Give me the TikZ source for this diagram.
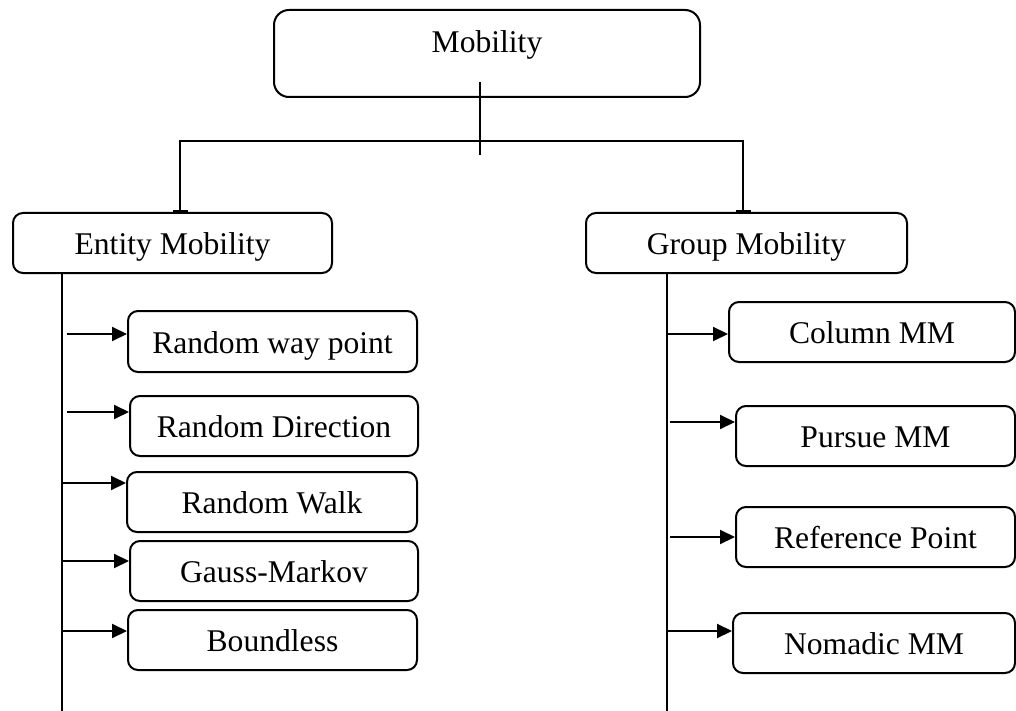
\documentclass[tikz,border=0pt]{standalone}
\usepackage{fontspec}
\setmainfont{Liberation Serif}
\usetikzlibrary{arrows.meta}
\tikzset{
  mbox/.style={draw,line width=2pt,rounded corners=10pt,inner sep=0pt,minimum height=60pt,text height=23pt,text depth=0pt},
  ln/.style={line width=2pt}
}
\begin{document}
\begin{tikzpicture}[x=1pt,y=-1pt,>={Triangle[length=15pt,width=14pt]},font=\fontsize{31.6pt}{36pt}\selectfont]
\useasboundingbox (0,0) rectangle (1016,711);
\node[mbox,rounded corners=15pt,minimum width=426pt,text height=43pt,text depth=44pt] (mob) at (487,53.5){Mobility};
\node[mbox,minimum width=319pt] (ent) at (172.5,243){Entity Mobility};
\node[mbox,minimum width=321pt] (grp) at (746.5,243){Group Mobility};
% entity models
\node[mbox,minimum width=289pt,minimum height=61pt] (rwp) at (272.5,341.5){Random way point};
\node[mbox,minimum width=288pt] (rdir) at (274,426){Random Direction};
\node[mbox,minimum width=290pt] (rwalk) at (272,502){Random Walk};
\node[mbox,minimum width=288pt] (gm) at (274,571){Gauss-Markov};
\node[mbox,minimum width=289pt] (bnd) at (272.5,640){Boundless};
% group models
\node[mbox,minimum width=286pt] (col) at (872,332){Column MM};
\node[mbox,minimum width=279pt] (pur) at (875.5,436){Pursue MM};
\node[mbox,minimum width=279pt] (ref) at (875.5,537){Reference Point};
\node[mbox,minimum width=282pt] (nom) at (874,643){Nomadic MM};
% tree lines
\coordinate (stub) at (480,155);
\coordinate (bus) at (480,141);
\draw[ln] (stub)--++(0,-73);
\draw[ln,-{Bar[width=15pt]}] (bus)-|([xshift=7.5pt]ent.north);
\draw[ln,-{Bar[width=15pt]}] (bus)-|([xshift=-3.5pt]grp.north);
\coordinate (entEnd) at (62,711);
\coordinate (grpEnd) at (667,711);
\draw[ln] (entEnd|-ent.south)--(entEnd);
\draw[ln] (grpEnd|-grp.south)--(grpEnd);
\foreach \n/\s/\y in {rwp/67/334,rdir/67/412,rwalk/63/483,gm/63/561,bnd/63/631,col/668/334,pur/670/422,ref/670/537,nom/667/631}{
  \coordinate (s\n) at (\s,\y);
  \draw[ln,->] (s\n)--(s\n-|\n.west);
}
\end{tikzpicture}
\end{document}
